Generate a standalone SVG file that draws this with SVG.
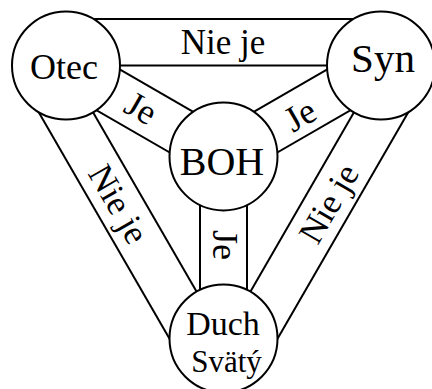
<svg xmlns="http://www.w3.org/2000/svg" width="432" height="389" viewBox="0 0 432 389">
<style>
.ln{stroke:#000;stroke-width:2;fill:none}
.nd{fill:#fff;stroke:#000;stroke-width:2}
text{font-family:"Liberation Serif","Times New Roman",serif;fill:#000;text-anchor:middle}
.lb{font-size:35px}
.je{font-size:36px}
</style>
<rect width="432" height="389" fill="#fff"/>
<g id="connectors">
<line class="ln" x1="66" y1="19" x2="381" y2="19"/>
<line class="ln" x1="66" y1="65.5" x2="381" y2="65.5"/>
<line class="ln" x1="66" y1="65.5" x2="223.5" y2="338.3"/>
<line class="ln" x1="25.3" y1="89" x2="182.8" y2="361.8"/>
<line class="ln" x1="381" y1="65.5" x2="223.5" y2="338.3"/>
<line class="ln" x1="421.7" y1="89" x2="264.2" y2="361.8"/>
<line class="ln" x1="54.25" y1="85.85" x2="211.75" y2="176.75"/>
<line class="ln" x1="77.75" y1="45.15" x2="235.25" y2="136.05"/>
<line class="ln" x1="392.75" y1="85.85" x2="235.25" y2="176.75"/>
<line class="ln" x1="369.25" y1="45.15" x2="211.75" y2="136.05"/>
<line class="ln" x1="200" y1="156.4" x2="200" y2="338.3"/>
<line class="ln" x1="247" y1="156.4" x2="247" y2="338.3"/>
<text class="lb" x="223" y="54">Nie je</text>
<text class="lb" transform="translate(118.7,203.9) rotate(60)" x="0" y="12">Nie je</text>
<text class="lb" transform="translate(328.4,203.4) rotate(-60)" x="0" y="12">Nie je</text>
<text class="je" transform="translate(141,108) rotate(30)" x="0" y="12">Je</text>
<text class="je" transform="translate(300,115) rotate(-30)" x="0" y="12">Je</text>
<text class="je" transform="translate(225,245) rotate(90)" x="0" y="12">Je</text>
</g>
<g id="otec">
<circle class="nd" cx="66" cy="65.5" r="54"/>
<text x="64" y="79" font-size="36">Otec</text>
</g>
<g id="syn">
<circle class="nd" cx="381" cy="65.5" r="54"/>
<text x="383" y="72" font-size="41">Syn</text>
</g>
<g id="boh">
<circle class="nd" cx="223.5" cy="156.4" r="54"/>
<text x="222" y="175" font-size="40">BOH</text>
</g>
<g id="duch">
<circle class="nd" cx="223.5" cy="338.5" r="54"/>
<text x="223" y="335" font-size="34">Duch</text>
<text x="226.5" y="371.5" font-size="31">Svätý</text>
</g>
</svg>
